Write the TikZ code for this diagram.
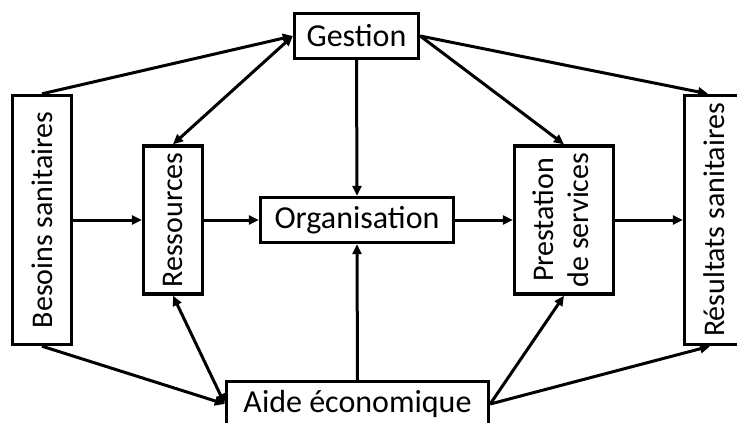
\documentclass[tikz,border=0pt]{standalone}
\usepackage{fontspec}
\setmainfont{Carlito}
\usetikzlibrary{arrows.meta}

\begin{document}
\begin{tikzpicture}[x=1pt,y=-1pt,
   box/.style={draw,line width=3.4pt,inner sep=0pt,font=\fontsize{32}{35}\selectfont},
   vbox/.style={box,font=\fontsize{30}{35}\selectfont},
   arr/.style={line width=3pt,-{Triangle[length=10pt,width=9pt]}},
   darr/.style={line width=3pt,{Triangle[length=10pt,width=9pt]}-{Triangle[length=10pt,width=9pt]}}]
\useasboundingbox (0,0) rectangle (737,423);
\clip (0,0) rectangle (737,423);
\node[vbox,minimum width=59pt,minimum height=249pt] (besoins) at (42,220)
   {\rotatebox{90}{Besoins sanitaires}};
\node[vbox,minimum width=59pt,minimum height=148pt] (ressources) at (173,220)
   {\rotatebox{90}{Ressources}};
\node[box,minimum width=124pt,minimum height=45pt] (gestion) at (356.5,36) {Gestion};
\node[box,minimum width=193pt,minimum height=45pt] (organisation) at (357,220) {Organisation};
\node[box,minimum width=262pt,minimum height=45pt] (aide) at (357.5,404) {Aide économique};
\node[vbox,minimum width=99pt,minimum height=148pt] (prestation) at (564,220)
   {\rotatebox{90}{\begin{tabular}{@{}c@{}}Prestation\\de services\end{tabular}}};
\node[vbox,minimum width=59pt,minimum height=249pt] (resultats) at (714,220)
   {\rotatebox{90}{Résultats sanitaires}};

\draw[arr] (besoins.north) -- (gestion.west);
\draw[darr] (gestion.west) -- (ressources.north);
\draw[arr] (gestion.south) -- (organisation.north);
\draw[arr] (gestion.east) -- (prestation.north);
\draw[arr] (gestion.east) -- ([xshift=-6pt]resultats.north);
\draw[arr] (besoins.east) -- (ressources.west);
\draw[arr] (ressources.east) -- (organisation.west);
\draw[arr] (organisation.east) -- (prestation.west);
\draw[arr] (prestation.east) -- (resultats.west);
\draw[arr] (besoins.south) -- (aide.west);
\draw[darr] (aide.west) -- (ressources.south);
\draw[arr] (aide.north) -- (organisation.south);
\draw[arr] (aide.east) -- (prestation.south);
\draw[arr] (aide.east) -- ([xshift=-4pt]resultats.south);
\end{tikzpicture}
\end{document}
